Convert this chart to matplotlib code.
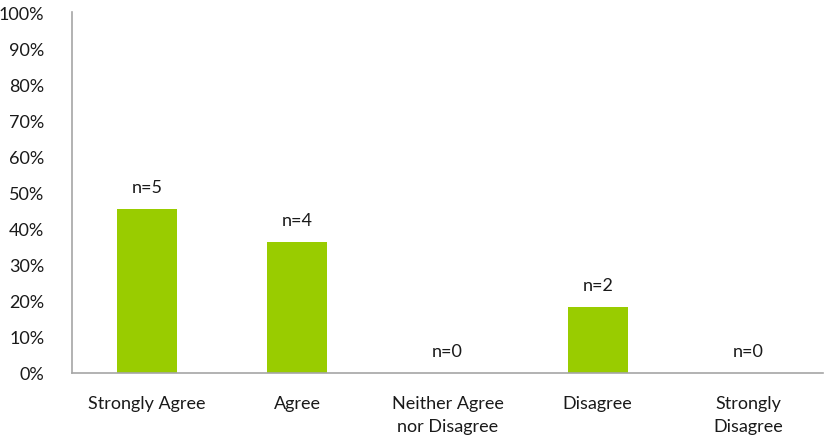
import numpy as np
import matplotlib.pyplot as plt
from matplotlib.ticker import PercentFormatter

plt.rcParams['font.family'] = ['Lato', 'DejaVu Sans']

# Survey responses
categories = ['Strongly Agree', 'Agree', 'Neither Agree\nnor Disagree', 'Disagree', 'Strongly\nDisagree']
counts = [5, 4, 0, 2, 0]
total = sum(counts)
percents = [100 * c / total for c in counts]

fig = plt.figure(figsize=(8.24, 4.39), dpi=100)
ax = fig.add_axes([72 / 824, 65 / 439, 751 / 824, 361 / 439])

x = np.arange(len(categories))
bars = ax.bar(x, percents, width=0.4, color='#99cc00', zorder=2)

# n labels above bars
for xi, p, c in zip(x, percents, counts):
    ax.annotate(f'n={c}', (xi, p), xytext=(0, 10), textcoords='offset points',
                ha='center', va='bottom', fontsize=13, color='#1a1a1a')

ax.set_xlim(-0.5, len(categories) - 0.5)
ax.set_ylim(0, 100)
ax.set_yticks(np.arange(0, 101, 10))
ax.yaxis.set_major_formatter(PercentFormatter(decimals=0))
ax.set_xticks(x)
ax.set_xticklabels(categories, fontsize=13, color='#1a1a1a', va='top', linespacing=1.55)
ax.tick_params(axis='y', labelsize=13, labelcolor='#1a1a1a', length=0, pad=20)
ax.tick_params(axis='x', length=0, pad=16)

for s in ['top', 'right']:
    ax.spines[s].set_visible(False)
for s in ['left', 'bottom']:
    ax.spines[s].set_color('#a6a6a6')
    ax.spines[s].set_linewidth(1.2)

fig.savefig('out.png', dpi=100)
